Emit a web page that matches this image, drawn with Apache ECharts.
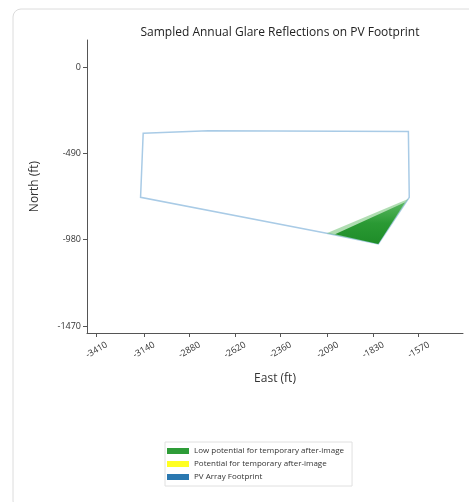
<!DOCTYPE html>
<html>
<head>
<meta charset="utf-8">
<script src="https://cdn.jsdelivr.net/npm/echarts@6/dist/echarts.min.js"></script>
<style>
html,body{margin:0;padding:0;background:#fff;}
#main{width:469px;height:502px;}
</style>
</head>
<body>
<div id="main"></div>
<script>
// footprint outline (ft)
var footprintEast = [-3144, -2772, -1629, -1624, -1801, -2096, -3159];
var footprintNorth = [-376, -362, -367, -740, -1005, -944, -740];
// glare region, outer (faint) and core (dark)
var glareEast = [-2096, -1631, -1801];
var glareNorth = [-944, -749, -1005];
var glareCoreEast = [-2048, -1648, -1801];
var glareCoreNorth = [-950, -768, -1005];
var eastTicks = [-3410, -3140, -2880, -2620, -2360, -2090, -1830, -1570];
var northTicks = [0, -490, -980, -1470];
var legendNames = ['Low potential for temporary after-image', 'Potential for temporary after-image', 'PV Array Footprint'];

var myChart = echarts.init(document.getElementById('main'));

function pairs(xs, ys) {
    var out = [];
    for (var i = 0; i < xs.length; i++) out.push([xs[i], ys[i]]);
    return out;
}

function polyItem(xs, ys, style) {
    return function (params, api) {
        if (params.dataIndex !== 0) return null;
        var pts = [];
        for (var i = 0; i < xs.length; i++) pts.push(api.coord([xs[i], ys[i]]));
        return { type: 'polygon', shape: { points: pts }, style: style };
    };
}

function plain(v) { return String(v); }

var option = {
    animation: false,
    backgroundColor: '#fff',
    graphic: [{
        type: 'rect', silent: true, z: -10,
        shape: { x: 13, y: 9, width: 470, height: 500, r: 8 },
        style: { fill: '#fff', stroke: '#dcdcdc', lineWidth: 1 }
    }],
    title: {
        text: 'Sampled Annual Glare Reflections on PV Footprint',
        left: 275, textAlign: 'center', top: 22,
        textStyle: { fontFamily: 'Open Sans', fontSize: 12, fontWeight: 'normal', color: '#222' }
    },
    grid: { left: 87, right: 6, top: 40, bottom: 169 },
    legend: {
        orient: 'vertical', left: 165, top: 442,
        itemWidth: 22, itemHeight: 6, itemGap: 5,
        padding: [5, 8, 5, 2],
        borderColor: '#e0e0e0', borderWidth: 1,
        icon: 'rect',
        data: legendNames,
        textStyle: { fontFamily: 'Open Sans', fontSize: 8, color: '#333' }
    },
    xAxis: {
        type: 'value', min: -3465, max: -1317,
        name: 'East (ft)', nameLocation: 'middle', nameGap: 40,
        nameTextStyle: { fontFamily: 'Open Sans', fontSize: 12, color: '#333' },
        axisLine: { show: true, onZero: false, lineStyle: { color: '#555' } },
        axisTick: { show: true, length: 4, customValues: eastTicks, lineStyle: { color: '#555' } },
        axisLabel: {
            customValues: eastTicks, formatter: plain, rotate: 30, align: 'center', verticalAlign: 'middle', margin: 17,
            fontFamily: 'Open Sans', fontSize: 9, color: '#333'
        },
        splitLine: { show: false }
    },
    yAxis: {
        type: 'value', min: -1510, max: 153,
        name: 'North (ft)', nameLocation: 'middle', nameGap: 46, nameRotate: 90,
        nameTextStyle: { fontFamily: 'Open Sans', fontSize: 12, color: '#333' },
        axisLine: { show: true, onZero: false, lineStyle: { color: '#555' } },
        axisTick: { show: true, length: 4, customValues: northTicks, lineStyle: { color: '#555' } },
        axisLabel: { customValues: northTicks, formatter: plain, margin: 6, fontFamily: 'Open Sans', fontSize: 9, color: '#333' },
        splitLine: { show: false }
    },
    series: [{
        name: legendNames[2], type: 'custom',
        itemStyle: { color: '#2a78b0' },
        renderItem: polyItem(footprintEast, footprintNorth, { fill: 'none', stroke: '#a9cbe6', lineWidth: 1.5 }),
        data: pairs(footprintEast, footprintNorth), z: 2
    }, {
        name: legendNames[0], type: 'custom',
        itemStyle: { color: '#2e9c38' },
        renderItem: polyItem(glareEast, glareNorth, { fill: 'rgba(80,180,85,0.45)', stroke: 'none' }),
        data: pairs(glareEast, glareNorth), z: 3
    }, {
        name: legendNames[0], type: 'custom',
        itemStyle: { color: '#2e9c38' },
        renderItem: polyItem(glareCoreEast, glareCoreNorth, {
            fill: new echarts.graphic.LinearGradient(0, 0, 0, 1, [
                { offset: 0, color: 'rgba(50,165,60,0.7)' },
                { offset: 0.5, color: 'rgba(35,150,45,0.95)' },
                { offset: 1, color: 'rgba(30,140,40,1)' }
            ]), stroke: 'none'
        }),
        data: pairs(glareCoreEast, glareCoreNorth), z: 4
    }, {
        name: legendNames[1], type: 'custom',
        itemStyle: { color: '#ffff22' },
        renderItem: function () { return null; },
        data: []
    }]
};

myChart.setOption(option);
</script>
</body>
</html>
